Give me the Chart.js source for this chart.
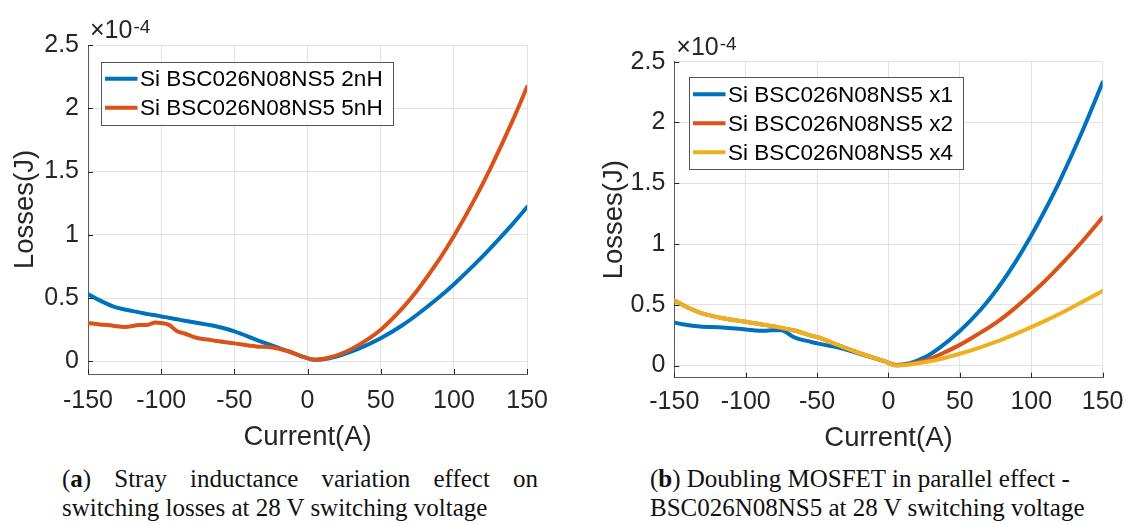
<!DOCTYPE html>
<html><head><meta charset="utf-8">
<script src="https://cdn.jsdelivr.net/npm/chart.js@4.4.1/dist/chart.umd.min.js"></script>
<style>
html,body{margin:0;padding:0;background:#fff;width:1133px;height:524px;overflow:hidden;}
.box{position:absolute;}
.cap{position:absolute;font-family:"Liberation Serif",serif;font-size:25px;color:#111;white-space:nowrap;line-height:29px;height:29px;}
.just{text-align:justify;text-align-last:justify;white-space:normal;}
</style></head><body>
<div class="box" style="left:0;top:0;width:560px;height:460px"><canvas id="ca"></canvas></div>
<div class="box" style="left:580px;top:0;width:553px;height:460px"><canvas id="cb"></canvas></div>
<div class="cap just" style="left:62px;top:464px;width:476px">(<b>a</b>) Stray inductance variation effect on</div>
<div class="cap" style="left:62px;top:493px;">switching losses at 28 V switching voltage</div>
<div class="cap" style="left:650px;top:464px;">(<b>b</b>) Doubling MOSFET in parallel effect -</div>
<div class="cap" style="left:650px;top:493px;">BSC026N08NS5 at 28 V switching voltage</div>
<script>
// ---- data (losses in units of 1e-4 J) ----
const currentA = [-150,-142,-133,-125,-115,-109,-104,-100,-95,-89,-84,-76,-67,-62,-50,-35,-24,-13,-4,5,15,25,35,50,65,75,90,100,115,125,140,150];
const lossA_2nH = [0.532,0.482,0.434,0.41,0.387,0.373,0.364,0.355,0.345,0.332,0.321,0.305,0.287,0.275,0.237,0.17,0.124,0.079,0.04,0.012,0.025,0.058,0.10,0.182,0.287,0.37,0.508,0.61,0.776,0.895,1.085,1.22];
const lossA_5nH = [0.303,0.292,0.282,0.272,0.287,0.29,0.307,0.303,0.29,0.237,0.22,0.186,0.17,0.16,0.142,0.118,0.11,0.08,0.04,0.013,0.03,0.07,0.13,0.25,0.422,0.562,0.805,0.99,1.30,1.527,1.90,2.17];

const currentB = [-150,-142,-132,-116,-100,-86,-82,-75,-68,-65,-54,-49,-35,-19,-3,5,15,25,35,50,65,76,90,100,110,120,136,150];
const lossB_x1 = [0.353,0.335,0.322,0.314,0.297,0.286,0.29,0.29,0.245,0.228,0.194,0.18,0.147,0.092,0.036,0.005,0.02,0.065,0.14,0.285,0.465,0.628,0.872,1.07,1.286,1.52,1.934,2.33];
const lossB_x2 = [0.536,0.486,0.436,0.389,0.361,0.333,0.325,0.31,0.293,0.286,0.245,0.231,0.167,0.097,0.036,0.003,0.013,0.04,0.085,0.17,0.275,0.357,0.487,0.59,0.70,0.82,1.025,1.22];
const lossB_x4 = [0.536,0.486,0.436,0.389,0.361,0.333,0.325,0.31,0.293,0.286,0.245,0.231,0.167,0.097,0.036,0.0,0.009,0.027,0.05,0.097,0.152,0.198,0.265,0.316,0.37,0.426,0.525,0.613];

const labelsA = ['Si BSC026N08NS5 2nH','Si BSC026N08NS5 5nH'];
const labelsB = ['Si BSC026N08NS5 x1','Si BSC026N08NS5 x2','Si BSC026N08NS5 x4'];
const xTicks = [-150,-100,-50,0,50,100,150];
const yTicks = [0,0.5,1,1.5,2,2.5];
const xTitle = 'Current(A)';
const yTitle = 'Losses(J)';
const expBase = '\u00d710';
const expPow = '-4';
const colors = ['#0072BD','#D95319','#EDB120'];

const SANS = '"Liberation Sans", Arial, sans-serif';
const TXT = '#262626';

const deco = {
  id: 'deco',
  afterDatasetsDraw(chart, args, o) {
    const ctx = chart.ctx, ca = chart.chartArea;
    const xs = chart.scales.x, ys = chart.scales.y;
    ctx.save();
    ctx.strokeStyle = TXT; ctx.lineWidth = 1;
    ctx.beginPath();
    xTicks.forEach(v => { const p = Math.round(xs.getPixelForValue(v)) + 0.5;
      ctx.moveTo(p, ca.bottom); ctx.lineTo(p, ca.bottom - 5); });
    yTicks.forEach(v => { const p = Math.round(ys.getPixelForValue(v)) + 0.5;
      ctx.moveTo(ca.left, p); ctx.lineTo(ca.left + 5, p); });
    ctx.stroke();
    ctx.fillStyle = TXT; ctx.textBaseline = 'alphabetic'; ctx.textAlign = 'left';
    ctx.font = '25px ' + SANS;
    const bx = ca.left + 2, by = ca.top - 6.7;
    ctx.fillText(expBase, bx, by);
    const w = ctx.measureText(expBase).width;
    ctx.font = '19px ' + SANS;
    ctx.fillText(expPow, bx + w + 1, by - 5);
    const ds = chart.data.datasets;
    ctx.font = '22.5px ' + SANS;
    let mw = 0; ds.forEach(d => mw = Math.max(mw, ctx.measureText(d.label).width));
    const lx = ca.left + o.dx, ly = ca.top + o.dy;
    const lw = 39 + mw + 10, lh = 17 + (ds.length - 1) * 29 + 17;
    ctx.fillStyle = '#fff'; ctx.fillRect(lx, ly, lw, lh);
    ctx.strokeStyle = '#555'; ctx.lineWidth = 1;
    ctx.strokeRect(Math.round(lx) + 0.5, Math.round(ly) + 0.5, Math.round(lw), Math.round(lh));
    ds.forEach((d, i) => {
      const cy = ly + 17 + i * 29;
      ctx.strokeStyle = d.borderColor; ctx.lineWidth = 4;
      ctx.beginPath(); ctx.moveTo(lx + 4, cy); ctx.lineTo(lx + 36.5, cy); ctx.stroke();
      ctx.fillStyle = '#000'; ctx.textBaseline = 'middle';
      ctx.fillText(d.label, lx + 39, cy + 1);
    });
    ctx.restore();
  }
};

function build(id, X, series, labels, L) {
  const datasets = series.map((s, i) => ({
    label: labels[i],
    data: X.map((x, j) => ({x: x, y: s[j]})),
    borderColor: colors[i], backgroundColor: colors[i],
    borderWidth: 4, pointRadius: 0, cubicInterpolationMode: 'monotone', fill: false,
    borderJoinStyle: 'round', borderCapStyle: 'round',
    order: series.length - i
  }));
  return new Chart(document.getElementById(id), {
    type: 'line',
    data: {datasets},
    options: {
      responsive: true, maintainAspectRatio: false, animation: false,
      layout: {padding: {left: 0, top: L.top, right: L.right, bottom: 0}},
      plugins: {legend: {display: false}, tooltip: {enabled: false},
        deco: {dx: L.dx, dy: L.dy}},
      scales: {
        x: {
          type: 'linear', min: -150, max: 150,
          afterBuildTicks: s => { s.ticks = xTicks.map(v => ({value: v})); },
          afterFit: s => { s.height = L.xh; },
          ticks: {padding: L.xpad, color: TXT, font: {family: SANS, size: 25}, maxRotation: 0, autoSkip: false, callback: v => String(v)},
          grid: {color: '#e2e2e2', drawTicks: false, lineWidth: 1},
          border: {color: '#5a5a5a', width: 1},
          title: {display: true, text: xTitle, color: TXT, font: {family: SANS, size: 27.5}, padding: {top: 0, bottom: L.xtb}}
        },
        y: {
          type: 'linear', min: -0.1, max: 2.5,
          afterBuildTicks: s => { s.ticks = yTicks.map(v => ({value: v})); },
          afterFit: s => { s.width = L.yw; },
          ticks: {padding: 9, color: TXT, font: {family: SANS, size: 25}, autoSkip: false, callback: v => String(v)},
          grid: {color: '#e2e2e2', drawTicks: false, lineWidth: 1},
          border: {color: '#5a5a5a', width: 1},
          title: {display: true, text: yTitle, color: TXT, font: {family: SANS, size: 27.5}, padding: {top: L.ytp, bottom: 0}}
        }
      }
    },
    plugins: [deco]
  });
}

build('ca', currentA, [lossA_2nH, lossA_5nH], labelsA,
  {top: 45, right: 21.5, xh: 86, yw: 88, xpad: 12, xtb: 6.5, ytp: 8.5, dx: 13, dy: 16.7});
build('cb', currentB, [lossB_x1, lossB_x2, lossB_x4], labelsB,
  {top: 61.7, right: 24.5, xh: 82.3, yw: 94.3, xpad: 9.5, xtb: 5.5, ytp: 17.5, dx: 14.7, dy: 15.6});
</script>
</body></html>
